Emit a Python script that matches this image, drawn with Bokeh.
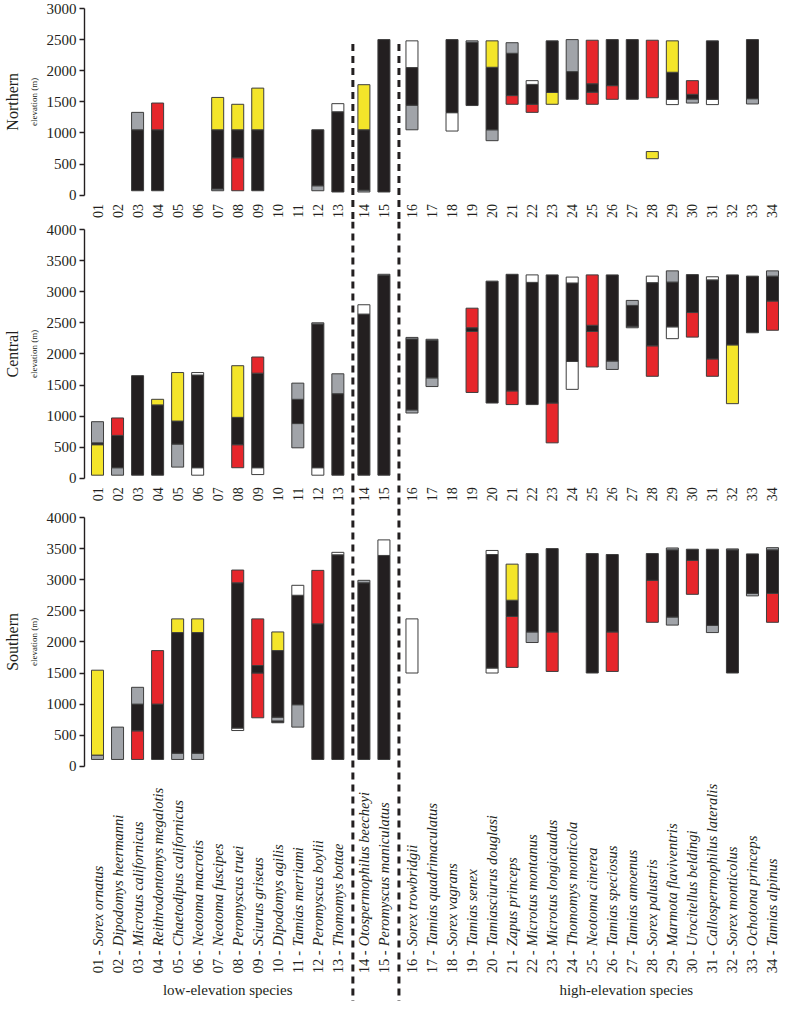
import numpy as np
from bokeh.plotting import figure
from bokeh.layouts import column
from bokeh.models import Range1d, FixedTicker, ColumnDataSource, Title
from bokeh.core.properties import value
from bokeh.embed import file_html
from bokeh.resources import INLINE

# ---------------- data ----------------
codes = ["%02d" % i for i in range(1, 35)]
species = [
    "Sorex ornatus", "Dipodomys heermanni", "Microtus californicus",
    "Reithrodontomys megalotis", "Chaetodipus californicus", "Neotoma macrotis",
    "Neotoma fuscipes", "Peromyscus truei", "Sciurus griseus", "Dipodomys agilis",
    "Tamias merriami", "Peromyscus boylii", "Thomomys bottae",
    "Otospermophilus beecheyi", "Peromyscus maniculatus", "Sorex trowbridgii",
    "Tamias quadrimaculatus", "Sorex vagrans", "Tamias senex",
    "Tamiasciurus douglasi", "Zapus princeps", "Microtus montanus",
    "Microtus longicaudus", "Thomomys monticola", "Neotoma cinerea",
    "Tamias speciosus", "Tamias amoenus", "Sorex palustris",
    "Marmota flaviventris", "Urocitellus beldingi", "Callospermophilus lateralis",
    "Sorex monticolus", "Ochotona princeps", "Tamias alpinus",
]
group_names = ["low-elevation species", "high-elevation species"]

# segments: species number, lower elevation, upper elevation, colour class
north_id = [3, 3, 4, 4, 7, 7, 7, 8, 8, 8, 9, 9, 12, 12, 13, 13, 14, 14, 14, 15,
            16, 16, 16, 18, 18, 19, 19, 20, 20, 20, 21, 21, 21, 22, 22, 22,
            23, 23, 24, 24, 25, 25, 25, 26, 26, 27, 28, 28, 29, 29, 29,
            30, 30, 30, 31, 31, 33, 33]
north_lo = [70, 1050, 70, 1050, 70, 100, 1050, 70, 600, 1050, 70, 1050, 70, 150, 50, 1340, 50, 80, 1050, 50,
            1050, 1445, 2050, 1030, 1325, 1440, 2455, 875, 1050, 2055, 1460, 1600, 2280, 1330, 1460, 1780,
            1460, 1650, 1540, 1985, 1460, 1655, 1790, 1540, 1760, 1540, 585, 1565, 1455, 1540, 1975,
            1480, 1545, 1620, 1455, 1540, 1465, 1550]
north_hi = [1050, 1330, 1050, 1480, 100, 1050, 1570, 600, 1050, 1460, 1050, 1720, 150, 1050, 1340, 1470, 80, 1050, 1775, 2500,
            1445, 2050, 2480, 1325, 2500, 2455, 2480, 1050, 2055, 2480, 1600, 2280, 2450, 1460, 1780, 1840,
            1650, 2480, 1985, 2500, 1655, 1790, 2490, 1760, 2500, 2500, 700, 2490, 1540, 1975, 2480,
            1545, 1620, 1840, 1540, 2480, 1550, 2500]
north_cls = ["K", "G", "K", "R", "G", "K", "Y", "R", "K", "Y", "K", "Y", "G", "K", "K", "W", "G", "K", "Y", "K",
             "G", "K", "W", "W", "K", "K", "G", "G", "K", "Y", "R", "K", "G", "R", "K", "W",
             "Y", "K", "K", "G", "R", "K", "R", "R", "K", "K", "Y", "R", "W", "K", "Y",
             "G", "K", "R", "W", "K", "G", "K"]

central_id = [1, 1, 1, 2, 2, 2, 3, 4, 4, 5, 5, 5, 6, 6, 6, 8, 8, 8, 9, 9, 9, 11, 11, 11,
              12, 12, 12, 13, 13, 14, 14, 15, 15, 16, 16, 16, 17, 17, 17, 19, 19, 19, 20,
              21, 21, 22, 22, 23, 23, 24, 24, 24, 25, 25, 25, 26, 26, 27, 27, 27,
              28, 28, 28, 29, 29, 29, 30, 30, 31, 31, 31, 32, 32, 33, 34, 34, 34]
central_lo = [50, 540, 570, 50, 170, 690, 50, 50, 1180, 180, 550, 920, 50, 170, 1660, 170, 540, 980, 60, 170, 1690, 490, 880, 1270,
              50, 170, 2480, 50, 1360, 50, 2640, 50, 3260, 1050, 1100, 2240, 1475, 1615, 2215, 1380, 2360, 2420, 1210,
              1185, 1405, 1185, 3150, 570, 1210, 1430, 1880, 3140, 1790, 2360, 2460, 1750, 1885, 2420, 2445, 2780,
              1640, 2130, 3145, 2245, 2435, 3155, 2270, 2665, 1640, 1920, 3190, 1200, 2145, 2340, 2380, 2850, 3250]
central_hi = [540, 570, 910, 170, 690, 970, 1650, 1180, 1270, 550, 920, 1700, 170, 1660, 1700, 540, 980, 1810, 170, 1690, 1950, 880, 1270, 1530,
              170, 2480, 2500, 1360, 1680, 2640, 2790, 3260, 3280, 1100, 2240, 2265, 1615, 2215, 2235, 2360, 2420, 2735, 3170,
              1405, 3280, 3150, 3270, 1210, 3270, 1880, 3140, 3235, 2360, 2460, 3270, 1885, 3270, 2445, 2780, 2860,
              2130, 3145, 3250, 2435, 3155, 3335, 2665, 3275, 1920, 3190, 3240, 2145, 3270, 3250, 2850, 3250, 3335]
central_cls = ["Y", "K", "G", "G", "K", "R", "K", "K", "Y", "G", "K", "Y", "W", "K", "W", "R", "K", "Y", "W", "K", "R", "G", "K", "G",
               "W", "K", "G", "K", "G", "K", "W", "K", "G", "G", "K", "G", "G", "K", "G", "R", "K", "R", "K",
               "R", "K", "K", "W", "R", "K", "W", "K", "W", "R", "K", "R", "G", "K", "G", "K", "G",
               "R", "K", "W", "W", "K", "G", "R", "K", "R", "K", "W", "Y", "K", "K", "R", "K", "G"]

south_id = [1, 1, 2, 3, 3, 3, 4, 4, 5, 5, 5, 6, 6, 6, 8, 8, 8, 9, 9, 9, 10, 10, 10, 10,
            11, 11, 11, 12, 12, 13, 13, 14, 14, 15, 15, 16, 20, 20, 20, 21, 21, 21,
            22, 22, 23, 23, 25, 26, 26, 28, 28, 29, 29, 29, 30, 30, 31, 31, 32, 32,
            33, 33, 34, 34, 34]
south_lo = [110, 180, 110, 110, 570, 1000, 110, 1000, 110, 210, 2150, 110, 210, 2150, 575, 615, 2950, 780, 1500, 1620, 700, 730, 790, 1860,
            630, 990, 2750, 110, 2290, 110, 3400, 110, 2950, 110, 3390, 1500, 1500, 1580, 3405, 1590, 2410, 2670,
            1990, 2160, 1525, 2160, 1500, 1525, 2160, 2315, 2990, 2270, 2400, 3480, 2765, 3310, 2150, 2265, 1500, 3480,
            2740, 2780, 2315, 2780, 3480]
south_hi = [180, 1545, 630, 570, 1000, 1270, 1000, 1860, 210, 2150, 2370, 210, 2150, 2370, 615, 2950, 3155, 1500, 1620, 2370, 730, 790, 1860, 2160,
            990, 2750, 2910, 2290, 3150, 3400, 3440, 2950, 2990, 3390, 3640, 2370, 1580, 3405, 3470, 2410, 2670, 3250,
            2160, 3420, 2160, 3500, 3420, 2160, 3405, 2990, 3420, 2400, 3480, 3510, 3310, 3490, 2265, 3490, 3480, 3495,
            2780, 3415, 2780, 3480, 3515]
south_cls = ["G", "Y", "G", "R", "K", "G", "K", "R", "G", "K", "Y", "G", "K", "Y", "W", "K", "R", "R", "K", "R", "K", "G", "K", "Y",
             "G", "K", "W", "K", "R", "K", "W", "K", "G", "K", "W", "W", "W", "K", "W", "R", "K", "Y",
             "G", "K", "R", "K", "K", "R", "K", "R", "K", "G", "K", "G", "R", "K", "G", "K", "K", "G",
             "G", "K", "R", "K", "G"]

# ---------------- style ----------------
PALETTE = {"K": "#231f20", "G": "#a1a4a9", "R": "#e6262b", "Y": "#f4e52a", "W": "#ffffff"}
INK = "#231f20"
SERIF = "Liberation Serif"
S = 0.0622           # pixels per metre
W = 780
LB = 76
X0, X1 = 0.35, 35.1
BAR_W = 0.6
DIVIDERS = [13.75, 16.05]
GROUP_X = [7.5, 27.4]

# approximate Times advance widths (em/1000) used to centre the rotated side titles
TW = {"N": 722, "o": 500, "r": 333, "t": 278, "h": 500, "e": 444, "n": 500, "C": 667,
      "a": 444, "l": 278, "S": 556, "u": 500, "v": 500, "i": 278, " ": 250, "(": 333,
      ")": 333, "m": 778}


def text_len(s, size):
    return sum(TW.get(c, 500) for c in s) / 1000.0 * size


def xpos(i):
    return i + (0.3 if i >= 14 else 0.0) + (0.4 if i >= 16 else 0.0)


def make_panel(region, ymax, ids, lo, hi, cls, top_pad, bottom_pad, dash_top=None):
    h = int(round(top_pad + ymax * S + bottom_pad))
    bpad = h - top_pad - ymax * S
    p = figure(width=W, height=h, x_range=Range1d(X0, X1),
               y_range=Range1d(-bpad / S, ymax + top_pad / S),
               output_backend="svg", toolbar_location=None, x_axis_location=None,
               min_border_left=LB, min_border_right=0, min_border_top=0, min_border_bottom=0,
               outline_line_color=None, background_fill_color="white", border_fill_color="white")
    p.grid.visible = False

    ax = p.yaxis[0]
    ax.bounds = (0, ymax)
    ax.ticker = FixedTicker(ticks=list(range(0, ymax + 1, 500)))
    ax.major_label_text_font = SERIF
    ax.major_label_text_font_size = "15px"
    ax.major_label_text_color = INK
    ax.major_tick_out = 5
    ax.major_tick_in = 0
    ax.minor_tick_line_color = None
    ax.axis_line_color = INK
    ax.axis_line_width = 1.4
    ax.major_tick_line_color = INK
    ax.major_tick_line_width = 1.4
    ax.major_label_standoff = 3

    centre = top_pad + ymax * S / 2.0
    for txt, size, stand in (("elevation (m)", 9, 10), (region, 16, 2)):
        t = Title(text=txt, align="right", offset=centre - text_len(txt, size) / 2.0,
                  text_font=SERIF, text_font_style="normal", text_font_size="%dpx" % size,
                  text_color=INK, standoff=stand)
        p.add_layout(t, "left")

    src = ColumnDataSource(dict(
        x=[xpos(i) for i in ids], bottom=lo, top=hi,
        color=[PALETTE[c] for c in cls]))
    p.vbar(x="x", width=BAR_W, bottom="bottom", top="top", fill_color="color",
           line_color="#3d3d3d", line_width=1, source=src)

    y_top = ymax + top_pad / S if dash_top is None else dash_top
    for d in DIVIDERS:
        p.segment(x0=[d], x1=[d], y0=[y_top], y1=[-bpad / S],
                  line_color=INK, line_width=3, line_dash="7 5")
    return p


p1 = make_panel("Northern", 3000, north_id, north_lo, north_hi, north_cls, 8, 26, dash_top=2430)
p2 = make_panel("Central", 4000, central_id, central_lo, central_hi, central_cls, 8, 30)
p3 = make_panel("Southern", 4000, south_id, south_lo, south_hi, south_cls, 9, 235)

# species number rows under the northern and central panels
xs = [xpos(i) for i in range(1, 35)]
for p in (p1, p2):
    p.text(x=xs, y=[-16 / S] * 34, text=codes, angle=np.pi / 2,
           text_align="center", text_baseline="middle",
           text_font=value(SERIF), text_font_size=value("14px"), text_color=INK)

# full species names under the southern panel
y_start = -207 / S
p3.text(x=xs, y=[y_start] * 34, text=[c + " - " for c in codes], angle=np.pi / 2,
        text_align="left", text_baseline="middle",
        text_font=value(SERIF), text_font_size=value("14.5px"), text_color=INK)
p3.text(x=xs, y=[y_start + 27 / S] * 34, text=species, angle=np.pi / 2,
        text_align="left", text_baseline="middle", text_font_style="italic",
        text_font=value(SERIF), text_font_size=value("14.5px"), text_color=INK)
p3.text(x=GROUP_X, y=[-224 / S] * 2, text=group_names,
        text_align="center", text_baseline="middle",
        text_font=value(SERIF), text_font_size=value("15px"), text_color=INK)

layout = column(p1, p2, p3, spacing=0)
open("out.html", "w").write(file_html(layout, INLINE))
